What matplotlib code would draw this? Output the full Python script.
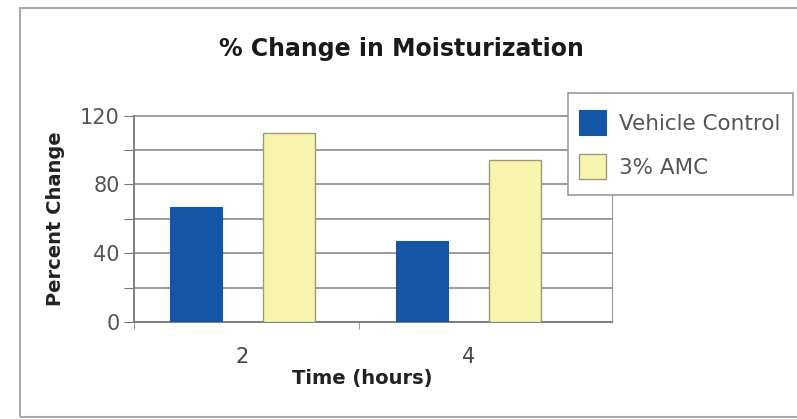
import matplotlib
matplotlib.use("Agg")
import matplotlib.pyplot as plt
from matplotlib.patches import Rectangle

# data
categories = ["2", "4"]
vehicle_control = [67, 47]
amc_3pct = [110, 94]
series_names = ["Vehicle Control", "3% AMC"]

blue = "#1456a6"
yellow = "#f7f4ae"

fig = plt.figure(figsize=(7.97, 4.19), dpi=100)
fig.patch.set_facecolor("white")

# outer chart frame
fig.patches.append(Rectangle((20 / 797, 2 / 419), 1.0, 409 / 419, transform=fig.transFigure,
                             fill=False, edgecolor="#a8a8a8", linewidth=1.5))

ax = fig.add_axes([133.8 / 797, 1 - 322 / 419, (612 - 133.8) / 797, (322 - 115.5) / 419])

x = list(range(len(categories)))
off, w = 0.205, 0.23
ax.bar([i - off for i in x], vehicle_control, width=w, color=blue, edgecolor=blue,
       linewidth=0.8, label=series_names[0], zorder=3)
ax.bar([i + off for i in x], amc_3pct, width=w, color=yellow, edgecolor="#9c9a78",
       linewidth=1.0, label=series_names[1], zorder=3)

ax.set_xlim(-0.481, 1.635)
ax.set_ylim(0, 120)
ax.set_yticks(range(0, 121, 20))
ax.set_yticklabels([str(v) if v % 40 == 0 else "" for v in range(0, 121, 20)])
ax.set_xticks(x)
ax.set_xticklabels(categories)
ax.set_xticks([-0.481, 0.514], minor=True)
ax.tick_params(axis="x", which="major", length=0, pad=18, labelsize=15, labelcolor="#444444")
ax.tick_params(axis="x", which="minor", length=5, color="#888888", direction="out")
ax.tick_params(axis="y", length=7, color="#777777", labelsize=15, labelcolor="#555555", pad=3)

ax.grid(axis="y", color="#8a8a8a", linewidth=1.2, zorder=0)
ax.set_axisbelow(True)
for side in ["left", "bottom"]:
    ax.spines[side].set_color("#777777")
    ax.spines[side].set_linewidth(1.3)
ax.spines["right"].set_color("#999999")
ax.spines["top"].set_visible(False)

ax.set_ylabel("Percent Change", fontsize=14, fontweight="bold", color="#222222",
              family="DejaVu Sans", labelpad=11)
ax.set_xlabel("Time (hours)", fontsize=14, fontweight="bold", color="#222222",
              family="DejaVu Sans")
ax.xaxis.set_label_coords(0.477, -0.228)

fig.text(401 / 797, 1 - 49 / 419, "% Change in Moisturization", ha="center", va="center",
         fontsize=17, fontweight="bold", color="#1a1a1a", family="DejaVu Sans")

# legend box drawn by hand (taller than matplotlib's own frame), entries on top
ax.add_patch(Rectangle((568 / 797, 1 - 195 / 419), 225 / 797, 102 / 419,
                       transform=fig.transFigure, facecolor="white", clip_on=False,
                       edgecolor="#999999", linewidth=1.2, zorder=4))
leg = ax.legend(loc="upper left", bbox_to_anchor=(568 / 797, 1 - 99 / 419),
                bbox_transform=fig.transFigure, frameon=False,
                borderaxespad=0, fontsize=15.5, labelcolor="#555555",
                handlelength=1.25, handleheight=1.45,
                borderpad=0.5, labelspacing=0.85, handletextpad=0.6)
leg.set_zorder(5)

fig.savefig("out.png", dpi=100)
plt.close(fig)
